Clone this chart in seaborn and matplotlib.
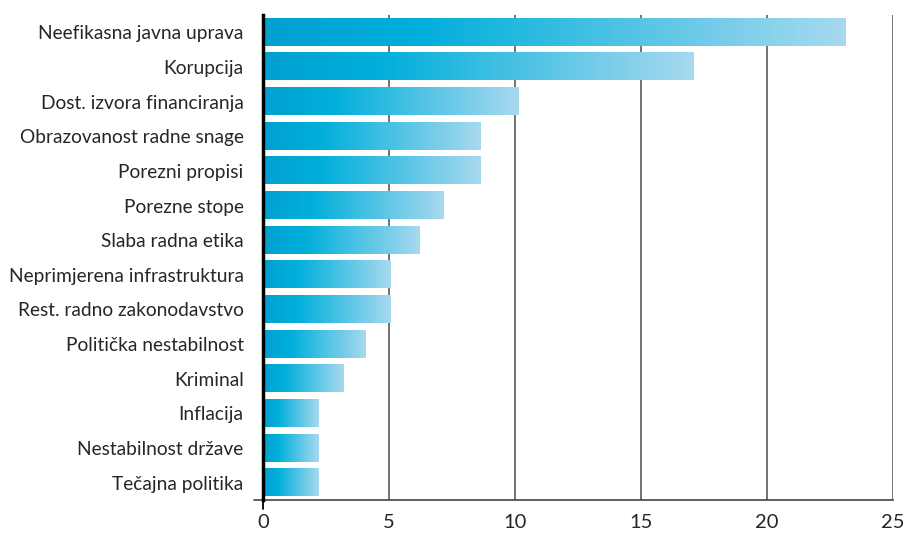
import numpy as np
import pandas as pd
import matplotlib
matplotlib.use("Agg")
import matplotlib.pyplot as plt
from matplotlib.colors import LinearSegmentedColormap
import seaborn as sns

# podaci
kategorije = ["Neefikasna javna uprava", "Korupcija", "Dost. izvora financiranja",
              "Obrazovanost radne snage", "Porezni propisi", "Porezne stope",
              "Slaba radna etika", "Neprimjerena infrastruktura",
              "Rest. radno zakonodavstvo", "Politička nestabilnost", "Kriminal",
              "Inflacija", "Nestabilnost države", "Tečajna politika"]
vrijednosti = [23.1, 17.1, 10.15, 8.65, 8.65, 7.15, 6.2, 5.05, 5.05, 4.05, 3.2, 2.2, 2.2, 2.2]
x_ticks = [0, 5, 10, 15, 20, 25]

df = pd.DataFrame({"kategorija": kategorije, "vrijednost": vrijednosti})

sns.set_style("white")
plt.rcParams["font.family"] = ["Lato", "DejaVu Sans"]

fig = plt.figure(figsize=(9.06, 5.34), dpi=100)
ax = fig.add_axes([0.2903, 0.0637, 0.6954, 0.9083])

sns.barplot(data=df, x="vrijednost", y="kategorija", orient="h", width=0.78,
            color="#00acd9", ax=ax, zorder=3)

# gradijent unutar svakog stupca
cmap = LinearSegmentedColormap.from_list(
    "grad", [(0, "#00a0d0"), (0.27, "#00afdb"), (1, "#a7d9ef")])
grad = np.linspace(0, 1, 256).reshape(1, -1)
for p in ax.patches:
    x0, y0 = p.get_x(), p.get_y()
    w, h = p.get_width(), p.get_height()
    p.set_alpha(0)
    ax.imshow(grad, cmap=cmap, aspect="auto", extent=[x0, x0 + w, y0 + h, y0],
              zorder=3, interpolation="bilinear")

ax.set_xlim(0, 25)
ax.set_ylim(len(kategorije) - 0.5, -0.5)
ax.set_xticks(x_ticks)
ax.set_xticklabels([str(t) for t in x_ticks])
ax.grid(axis="x", color="#5a5a5a", linewidth=1.2, zorder=1)
ax.grid(axis="y", visible=False)
ax.set_axisbelow(True)

for s in ["top", "right"]:
    ax.spines[s].set_visible(False)
ax.spines["left"].set_color("black")
ax.spines["left"].set_linewidth(2.5)
ax.spines["left"].set_zorder(5)
ax.spines["bottom"].set_color("#444444")
ax.spines["bottom"].set_linewidth(1.2)

# oznake kategorija i crtice na granicama
ax.set_yticks(range(len(kategorije)))
ax.set_yticklabels(kategorije)
ax.tick_params(axis="y", which="major", length=0, pad=14, labelsize=13.8, labelcolor="#262626")
ax.set_yticks(np.arange(-0.5, len(kategorije), 1), minor=True)
ax.tick_params(axis="y", which="minor", length=8, width=1.3, color="black", direction="out")
ax.tick_params(axis="x", length=0, pad=10, labelsize=14.5, labelcolor="#262626")

# produzetak donje osi i crtica kod nule
ax.plot([-0.35, 0], [13.5, 13.5], color="#444444", lw=1.2, clip_on=False, zorder=5)
ax.plot([0, 0], [13.5, 13.75], color="black", lw=1.3, clip_on=False, zorder=5)

ax.set_xlabel("")
ax.set_ylabel("")

fig.savefig("out.png", dpi=100)
